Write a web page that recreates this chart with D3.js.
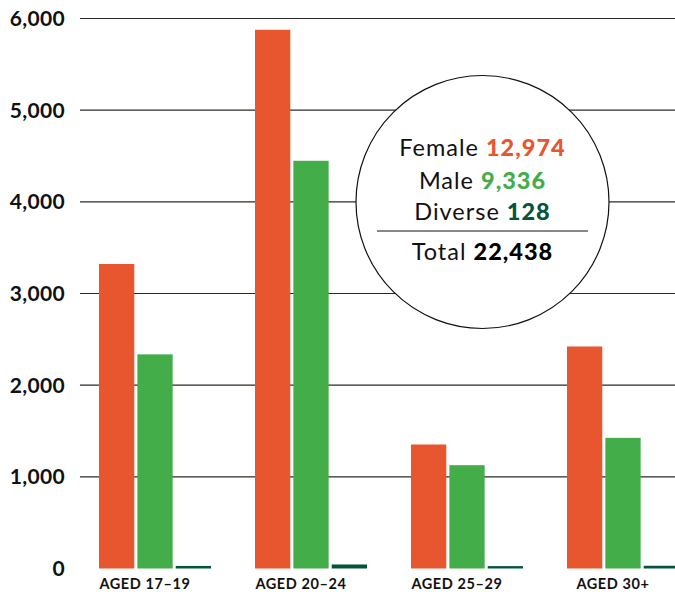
<!DOCTYPE html>
<html>
<head>
<meta charset="utf-8">
<script src="https://cdn.jsdelivr.net/npm/d3@7"></script>
<style>
  html, body { margin: 0; padding: 0; background: #fff; }
  svg { display: block; font-family: Lato, "Open Sans", sans-serif; }
</style>
</head>
<body>
<svg id="chart" width="675" height="592"></svg>
<script>
// Applicants by age group and gender
const ageGroups = ["AGED 17–19", "AGED 20–24", "AGED 25–29", "AGED 30+"];
const seriesNames = ["Female", "Male", "Diverse"];
const femaleValues = [3322, 5877, 1353, 2422];
const maleValues = [2336, 4448, 1127, 1425];
const diverseValues = [28, 44, 26, 30];
const yTicks = [0, 1000, 2000, 3000, 4000, 5000, 6000];

const seriesColors = { Female: "#E85630", Male: "#43AD4A", Diverse: "#06553A" };
const seriesValues = { Female: femaleValues, Male: maleValues, Diverse: diverseValues };

const svg = d3.select("#chart");
const fmt = d3.format(",");

const y = d3.scaleLinear().domain([0, 6000]).range([568.5, 18.5]);

const x0 = d3.scaleBand().domain(ageGroups).range([99, 679])
  .paddingInner(0.282).paddingOuter(0);
const x1 = d3.scaleBand().domain(seriesNames).range([0, x0.bandwidth()])
  .paddingInner(0.08).paddingOuter(0);

// Gridlines (no line at zero)
svg.append("g").selectAll("line")
  .data(yTicks.filter(t => t > 0))
  .join("line")
  .attr("x1", 80).attr("x2", 675)
  .attr("y1", d => y(d)).attr("y2", d => y(d))
  .attr("stroke", "#2b2b2b").attr("stroke-width", 1.2);

// Y-axis labels
svg.append("g").selectAll("text")
  .data(yTicks)
  .join("text")
  .attr("x", 65).attr("y", d => y(d))
  .attr("dy", "0.36em")
  .attr("text-anchor", "end")
  .attr("font-size", 21).attr("font-weight", 700)
  .attr("letter-spacing", 0.3)
  .attr("fill", "#111")
  .text(d => fmt(d));

// Bars
const groups = svg.append("g").selectAll("g")
  .data(ageGroups)
  .join("g")
  .attr("transform", d => `translate(${x0(d)},0)`);

groups.selectAll("rect")
  .data((g, i) => seriesNames.map(s => ({ s, v: seriesValues[s][i] })))
  .join("rect")
  .attr("x", d => x1(d.s))
  .attr("width", x1.bandwidth())
  .attr("y", d => y(d.v))
  .attr("height", d => y(0) - y(d.v))
  .attr("fill", d => seriesColors[d.s]);

// Category labels
svg.append("g").selectAll("text")
  .data(ageGroups)
  .join("text")
  .attr("x", d => x0(d) + x0.bandwidth() / 2 - 10)
  .attr("y", 588.5)
  .attr("text-anchor", "middle")
  .attr("font-size", 14.5).attr("font-weight", 700)
  .attr("letter-spacing", 0.6)
  .attr("fill", "#111")
  .text(d => d);

// Totals badge
const cx = 482.5, cy = 202, r = 126.5;
svg.append("circle")
  .attr("cx", cx).attr("cy", cy).attr("r", r)
  .attr("fill", "#fff").attr("stroke", "#111").attr("stroke-width", 1.2);

const rows = seriesNames.map(s => ({
  label: s, value: d3.sum(seriesValues[s]), color: seriesColors[s]
}));
const total = d3.sum(rows, d => d.value);
const baselines = [156, 189, 220];

rows.forEach((row, i) => {
  const t = svg.append("text")
    .attr("x", cx).attr("y", baselines[i])
    .attr("text-anchor", "middle")
    .attr("font-size", 23.5).attr("letter-spacing", 1)
    .attr("fill", "#111");
  t.append("tspan").text(row.label + " ");
  t.append("tspan").attr("font-weight", 900).attr("fill", row.color).text(fmt(row.value));
});

svg.append("line")
  .attr("x1", 377).attr("x2", 588)
  .attr("y1", 231).attr("y2", 231)
  .attr("stroke", "#111").attr("stroke-width", 1);

const tt = svg.append("text")
  .attr("x", cx).attr("y", 260)
  .attr("text-anchor", "middle")
  .attr("font-size", 23.5).attr("letter-spacing", 1)
  .attr("fill", "#111");
tt.append("tspan").text("Total ");
tt.append("tspan").attr("font-weight", 900).attr("fill", "#000").text(fmt(total));
</script>
</body>
</html>
